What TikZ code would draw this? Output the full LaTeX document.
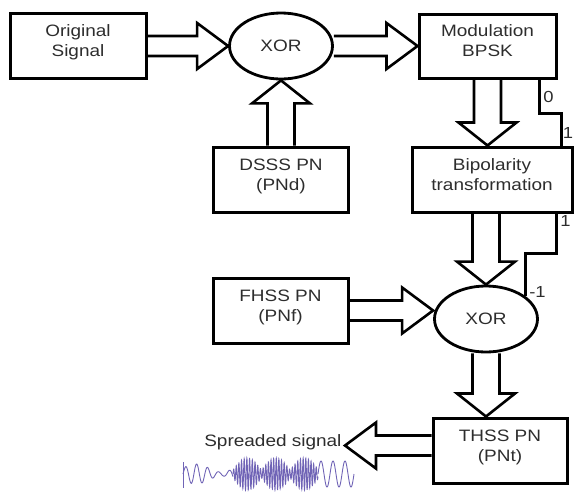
\documentclass[tikz,border=0pt]{standalone}
\usepackage{fontspec}
\setmainfont{Liberation Sans}[FakeStretch=1.15]
\usetikzlibrary{calc,shapes.geometric}
\definecolor{wavecol}{RGB}{112,100,182}
\definecolor{txt}{RGB}{45,45,45}
\begin{document}
\begin{tikzpicture}[x=1pt, y=-1pt,
  every node/.style={font=\fontsize{16.5}{20}\selectfont, text=txt, align=center},
  blk/.style={draw, line width=3pt, minimum width=#1, minimum height=65pt, inner sep=0pt, text depth=10pt},
  xorn/.style={draw, ellipse, line width=2.8pt, minimum width=103pt, minimum height=66pt, inner sep=0pt},
  fat/.style n args={3}{line width=2.6pt, line join=miter, to path={
    let \p1=(\tikztostart), \p2=(\tikztotarget),
        \n1={atan2(\y2-\y1,\x2-\x1)}, \n2={veclen(\x2-\x1,\y2-\y1)} in
    [shift={(\p1)}, rotate=\n1]
    (0,-#1) -- (\n2-#3,-#1) -- (\n2-#3,-#2) -- (\n2,0) -- (\n2-#3,#2) -- (\n2-#3,#1) -- (0,#1)}},
  hfat/.style={fat={10pt}{23pt}{31pt}},
  vfat/.style={fat={13.5pt}{29pt}{23pt}},
  sig/.style={line width=2.6pt},
  lvl/.style={font=\fontsize{16}{18}\selectfont, inner sep=2.5pt}]
\useasboundingbox (0,0) rectangle (574,491);
% blocks
\node[blk=136pt] (orig) at (78,46) {Original\\Signal};
\node[xorn] (xor1) at (281,46) {XOR};
\node[blk=137pt, minimum height=64pt] (mod) at (487.5,46) {Modulation\\BPSK};
\node[blk=135pt] (dsss) at (281,179.5) {DSSS PN\\(PNd)};
\node[blk=160pt] (bip) at (492,179.5) {Bipolarity\\transformation};
\node[blk=135pt] (fhss) at (280.5,310.5) {FHSS PN\\(PNf)};
\node[xorn] (xor2) at (486,319) {XOR};
\node[blk=134pt] (thss) at (500,450.5) {THSS PN\\(PNt)};
\node[anchor=east] (spr) at (345,442) {Spreaded signal};
% fat arrows
\draw[hfat] (orig.east) to (xor1.west);
\draw[hfat] (xor1.east) to (xor1.east -| mod.west);
\draw[vfat] (dsss.north) to (xor1.south);
\draw[vfat] (mod.south) to (mod.south |- bip.north);
\draw[vfat] (bip.south -| xor2.north) to (xor2.north);
\draw[hfat] (fhss.east) to (fhss.east -| xor2.west);
\draw[vfat] (xor2.south) to (xor2.south |- thss.north);
\draw[hfat] ([yshift=5pt]thss.west) to ([yshift=5pt]thss.west -| spr.east);
% level lines
\draw[sig] ([xshift=-18pt]mod.south east) |- ([xshift=-12pt,yshift=32pt]bip.north east)
  node[lvl, pos=0.25, right] {0}
  -- ([xshift=-12pt]bip.north east) node[lvl, pos=0.6, right, xshift=-2.5pt] {1};
\draw[sig] ([xshift=-17pt]bip.south east) -- ++(0,40) node[lvl, pos=0.18, right] {1}
  -| (xor2.30) node[lvl, at end, right, yshift=4pt] {-1};
% spread waveform
\draw[wavecol, line width=0.9pt] (183,462) -- (183,488);
\draw[wavecol, line width=0.9pt] plot[domain=0:50, samples=120] ({183+\x},{474-(6+4*sin(7*\x))*sin(33*\x)});
\draw[wavecol, line width=0.9pt] plot[domain=0:85, samples=700] ({233+\x},{474-(4+12*abs(sin(6.3*\x)))*sin(135*\x+20*sin(9*\x))});
\draw[wavecol, line width=0.9pt] plot[domain=0:36, samples=100] ({318+\x},{474-13*sin(30*\x)});
\end{tikzpicture}
\end{document}
